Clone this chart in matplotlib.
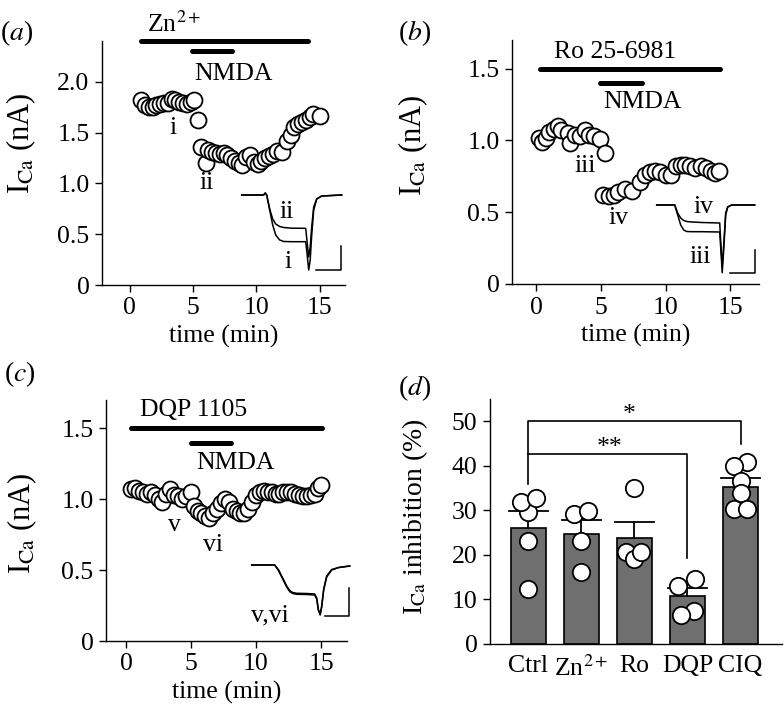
import matplotlib
matplotlib.use('Agg')
import matplotlib.pyplot as plt
import numpy as np

plt.rcParams['font.family'] = ['Liberation Serif', 'DejaVu Serif']
plt.rcParams['mathtext.fontset'] = 'stix'
plt.rcParams['font.size'] = 18.5
plt.rcParams['axes.linewidth'] = 1.0
plt.rcParams['xtick.major.width'] = 1.0
plt.rcParams['ytick.major.width'] = 1.0
plt.rcParams['xtick.major.size'] = 5
plt.rcParams['ytick.major.size'] = 5

# ---- panel (a): Zn2+ ----
t_a = [0.9, 1.2, 1.5, 1.8, 2.1, 2.4, 2.7, 3.0, 3.3, 3.6, 3.9, 4.2, 4.5, 4.8, 5.1,
       5.35, 5.6, 6.0, 6.2, 6.5, 6.8, 7.1, 7.4, 7.7, 8.0, 8.3, 8.6, 8.9, 9.2, 9.5,
       9.8, 10.1, 10.4, 10.7, 11.0, 11.3, 11.6, 12.0, 12.4, 12.7, 13.0, 13.3, 13.6,
       13.9, 14.2, 14.5, 15.0]
i_a = [1.82, 1.77, 1.75, 1.75, 1.77, 1.78, 1.79, 1.79, 1.83, 1.82, 1.80, 1.79, 1.78, 1.80, 1.82,
       1.62, 1.36, 1.20, 1.33, 1.31, 1.30, 1.29, 1.30, 1.28, 1.25, 1.22, 1.20, 1.18, 1.26, 1.28,
       1.21, 1.19, 1.22, 1.25, 1.27, 1.29, 1.32, 1.31, 1.42, 1.48, 1.55, 1.58, 1.60,
       1.62, 1.65, 1.68, 1.66]

# ---- panel (b): Ro 25-6981 ----
t_b = [0.2, 0.5, 0.8, 1.0, 1.4, 1.7, 1.95, 2.5, 2.6, 3.0, 3.4, 3.8, 4.1, 4.5, 4.9, 5.3,
       5.2, 5.6, 6.0, 6.3, 6.9, 7.4, 8.0, 8.4, 8.8, 9.2, 9.6, 10.0, 10.4, 10.8, 11.2,
       11.5, 11.9, 12.3, 12.7, 13.1, 13.5, 13.8, 14.1]
i_b = [1.02, 0.99, 1.02, 1.06, 1.08, 1.10, 1.07, 1.05, 0.98, 1.04, 1.03, 1.07, 1.04, 1.03, 1.01, 0.91,
       0.62, 0.61, 0.62, 0.64, 0.66, 0.65, 0.71, 0.76, 0.78, 0.79, 0.78, 0.76, 0.76, 0.82, 0.83,
       0.83, 0.82, 0.81, 0.82, 0.81, 0.79, 0.77, 0.79]

# ---- panel (c): DQP 1105 ----
t_c = [0.4, 0.7, 1.0, 1.3, 1.6, 1.9, 2.2, 2.5, 2.8, 3.1, 3.4, 3.7, 4.0, 4.3, 4.6, 5.0,
       5.2, 5.5, 5.8, 6.1, 6.4, 6.7, 7.0, 7.3, 7.6, 7.9, 8.2, 8.5, 8.8, 9.1, 9.4, 9.7,
       10.0, 10.3, 10.6, 10.9, 11.2, 11.5, 11.8, 12.1, 12.4, 12.7, 13.0, 13.3, 13.6,
       13.9, 14.2, 14.5, 14.8, 15.0]
i_c = [1.07, 1.08, 1.06, 1.05, 1.04, 1.05, 1.03, 1.00, 0.98, 1.04, 1.07, 1.03, 1.02, 1.00, 1.02, 1.05,
       0.95, 0.92, 0.90, 0.88, 0.87, 0.90, 0.93, 0.97, 1.00, 0.98, 0.93, 0.92, 0.90, 0.90, 0.93, 0.98,
       1.03, 1.05, 1.06, 1.05, 1.05, 1.04, 1.04, 1.05, 1.05, 1.05, 1.04, 1.03, 1.02,
       1.02, 1.03, 1.04, 1.08, 1.10]

# drug application bars: (start, end, level)
zn_bar = (0.9, 14.1, 2.40)
nmda_bar_a = (4.9, 8.1, 2.30)
ro_bar = (0.33, 14.2, 1.50)
nmda_bar_b = (4.96, 8.2, 1.40)
dqp_bar = (0.36, 15.1, 1.50)
nmda_bar_c = (4.98, 8.1, 1.40)

# ---- panel (d): summary ----
groups = ['Ctrl', 'Zn$^{2+}$', 'Ro', 'DQP', 'CIQ']
means = [26.0, 24.6, 23.8, 10.7, 35.2]
upper = [29.8, 27.8, 27.5, 12.5, 37.2]
pts = [[12.4, 23.1, 29.6, 31.8, 32.7],
       [16.1, 23.1, 29.1, 29.9],
       [35.0, 20.6, 19.1, 20.7],
       [13.1, 14.7, 7.5, 6.4],
       [40.9, 40.0, 36.5, 33.9, 30.2, 30.2]]
pts_dx = [[0, 0, 0, -0.13, 0.14],
          [0, 0, -0.14, 0.13],
          [0, -0.15, 0, 0.13],
          [-0.17, 0.15, 0.13, -0.13],
          [0.13, -0.13, 0, 0, -0.13, 0.13]]

# example current traces (ms, arbitrary units)
tr_t_a = [0, 22, 23.5, 25, 28, 31, 34, 38, 42, 50, 64, 65.5, 67, 68.5, 70, 72, 75, 80, 100]
tr_i = [0, 0, 2, 0, -15, -30, -40, -45, -46.5, -46.7, -46.7, -60, -75, -65, -40, -15, -4, -1, 0]
tr_ii = [0, 0, 2, 0, -14, -24, -29, -31.5, -32.5, -33.2, -33.3, -48, -62, -52, -32, -12, -4, -1, 0]
tr_t_b = [0, 18, 21, 24, 27, 30, 35, 45, 63, 64.5, 65.5, 67, 69, 71, 75, 98]
tr_iii = [0, 0, -10, -20, -25, -26.5, -26.7, -26.7, -27, -50, -67.7, -45, -10, -2, 0, 0]
tr_iv = [0, 0, -8, -13, -15.5, -16.5, -17, -17.5, -18, -45, -62, -40, -8, -2, 0, 0]
tr_t_c = [0, 23, 27, 31, 35, 38, 41, 45, 55, 63, 65, 66.7, 68.5, 70, 72, 75, 80, 87, 98]
tr_v = [0, 0, -5, -13, -21, -25.5, -27.5, -28.3, -28.5, -29, -33, -45, -50, -42, -25, -12, -5, -2.5, -1]
tr_vi = [0, 0, -6, -14, -22, -26.5, -28.5, -29.3, -29.5, -30, -34, -45, -49, -41, -24, -11, -4.5, -2.5, -1]

W, H = 784, 712
fig = plt.figure(figsize=(W / 100, H / 100), dpi=100)


def px_axes(l, t, r, b):
    return fig.add_axes([l / W, 1 - b / H, (r - l) / W, (b - t) / H])


def style(ax):
    ax.spines['top'].set_visible(False)
    ax.spines['right'].set_visible(False)
    ax.tick_params(direction='out', length=5, pad=4)


def fmt(v):
    return '0' if v == 0 else '%.1f' % v


def time_panel(ax, t, y, xlim, ylim, yticks, bars, bar_lbl, lbl_pos, nmda_pos, ylab_xy):
    ax.plot(t, y, 'o', ms=11.5, mfc='white', mec='black', mew=1.3, clip_on=False, zorder=3)
    ax.set_xlim(*xlim)
    ax.set_ylim(*ylim)
    ax.set_xticks([0, 5, 10, 15])
    ax.set_yticks(yticks)
    ax.set_yticklabels([fmt(v) for v in yticks])
    for (s, e, lev) in bars:
        ax.plot([s, e], [lev, lev], color='black', lw=3.6, solid_capstyle='round', clip_on=False)
    ax.text(lbl_pos[0], lbl_pos[1], bar_lbl, ha='center', va='center')
    ax.text(nmda_pos[0], nmda_pos[1], 'NMDA', ha='center', va='center')
    ax.set_xlabel('time (min)', labelpad=4)
    ax.set_ylabel('I$_{\\rm Ca}$ (nA)', fontsize=22)
    ax.yaxis.set_label_coords(*ylab_xy)
    style(ax)


def inset(l, t, r, b, xlim, ylim, tt, traces, sb):
    ax = px_axes(l, t, r, b)
    for tr in traces:
        ax.plot(tt, tr, color='black', lw=1.1)
    x1, y1, dx, dy = sb
    ax.plot([x1 - dx, x1, x1], [y1, y1, y1 + dy], color='black', lw=1.1)
    ax.set_xlim(*xlim)
    ax.set_ylim(*ylim)
    ax.axis('off')
    return ax


# (a)
ax_a = px_axes(102, 41, 345, 285)
time_panel(ax_a, t_a, i_a, (-2.2, 17), (0, 2.4), [0, 0.5, 1.0, 1.5, 2.0],
           [zn_bar, nmda_bar_a], 'Zn$^{2+}$', (3.5, 2.57), (8.2, 2.08), (-0.265, 0.58))
ax_a.text(3.4, 1.54, 'i', ha='center', va='center')
ax_a.text(6.1, 1.0, 'ii', ha='center', va='center')
ia = inset(236, 185, 346, 275, (-5.7, 104.3), (-80, 10), tr_t_a, [tr_i, tr_ii], (99.3, -75, 25, 24))
ia.text(45, -16.7, 'ii', ha='center', va='center')
ia.text(46.6, -66.7, 'i', ha='center', va='center')

# (b)
ax_b = px_axes(512, 40, 759, 284)
time_panel(ax_b, t_b, i_b, (-1.85, 17.2), (0, 1.7), [0, 0.5, 1.0, 1.5],
           [ro_bar, nmda_bar_b], 'Ro 25-6981', (6.1, 1.616), (8.2, 1.27), (-0.33, 0.57))
ax_b.text(3.76, 0.82, 'iii', ha='center', va='center')
ax_b.text(6.4, 0.46, 'iv', ha='center', va='center')
ib = inset(650, 198, 760, 278, (-6.7, 103.3), (-73, 7), tr_t_b, [tr_iii, tr_iv], (98.3, -68.3, 25, 23.3))
ib.text(46.3, -1.7, 'iv', ha='center', va='center')
ib.text(43.3, -51.7, 'iii', ha='center', va='center')

# (c)
ax_c = px_axes(106, 400, 347, 641)
time_panel(ax_c, t_c, i_c, (-1.54, 17.0), (0, 1.7), [0, 0.5, 1.0, 1.5],
           [dqp_bar, nmda_bar_c], 'DQP 1105', (5.2, 1.63), (8.4, 1.256), (-0.28, 0.49))
ax_c.text(3.7, 0.82, 'v', ha='center', va='center')
ax_c.text(6.7, 0.68, 'vi', ha='center', va='center')
ic = inset(245, 558, 355, 620, (-6.7, 103.3), (-55, 7), tr_t_c, [tr_v, tr_vi], (97.6, -50.7, 24.3, 28))
ic.text(18.3, -50, 'v,vi', ha='center', va='center')

# (d)
ax_d = px_axes(490, 399, 782, 644)
x = np.arange(len(groups))
ax_d.bar(x, means, width=0.66, color='#6f6f6f', edgecolor='black', lw=1.2, zorder=1)
for xi, m, u in zip(x, means, upper):
    ax_d.plot([xi, xi], [m, u], color='black', lw=1.3, zorder=2)
    ax_d.plot([xi - 0.37, xi + 0.37], [u, u], color='black', lw=1.3, zorder=2)
for xi, p, d in zip(x, pts, pts_dx):
    ax_d.plot(np.array(d) + xi, p, 'o', ms=12.5, mfc='white', mec='black', mew=1.3, zorder=3)
# significance brackets
ax_d.plot([0, 0, 4, 4], [35.9, 50, 50, 44.9], color='black', lw=1.2)
ax_d.plot([0, 3, 3], [42.6, 42.6, 19.3], color='black', lw=1.2)
ax_d.text(1.91, 51.5, '*', ha='center', va='center')
ax_d.text(1.54, 44.0, '**', ha='center', va='center')
ax_d.set_xlim(-0.72, 4.78)
ax_d.set_ylim(0, 55)
ax_d.set_yticks([0, 10, 20, 30, 40, 50])
ax_d.set_xticks(x)
ax_d.set_xticklabels(groups)
style(ax_d)
ax_d.tick_params(axis='x', length=0, pad=8)
ax_d.set_ylabel('I$_{\\rm Ca}$ inhibition (%)', fontsize=20)
ax_d.yaxis.set_label_coords(-0.205, 0.52)

# panel letters
for lbl, px, py in [('a', 17, 33), ('b', 415, 33), ('c', 20, 374), ('d', 415, 388)]:
    fig.text(px / W, 1 - py / H, '($\\it{%s}$)' % lbl, ha='center', va='center', fontsize=20)

fig.savefig('out.png', dpi=100)
